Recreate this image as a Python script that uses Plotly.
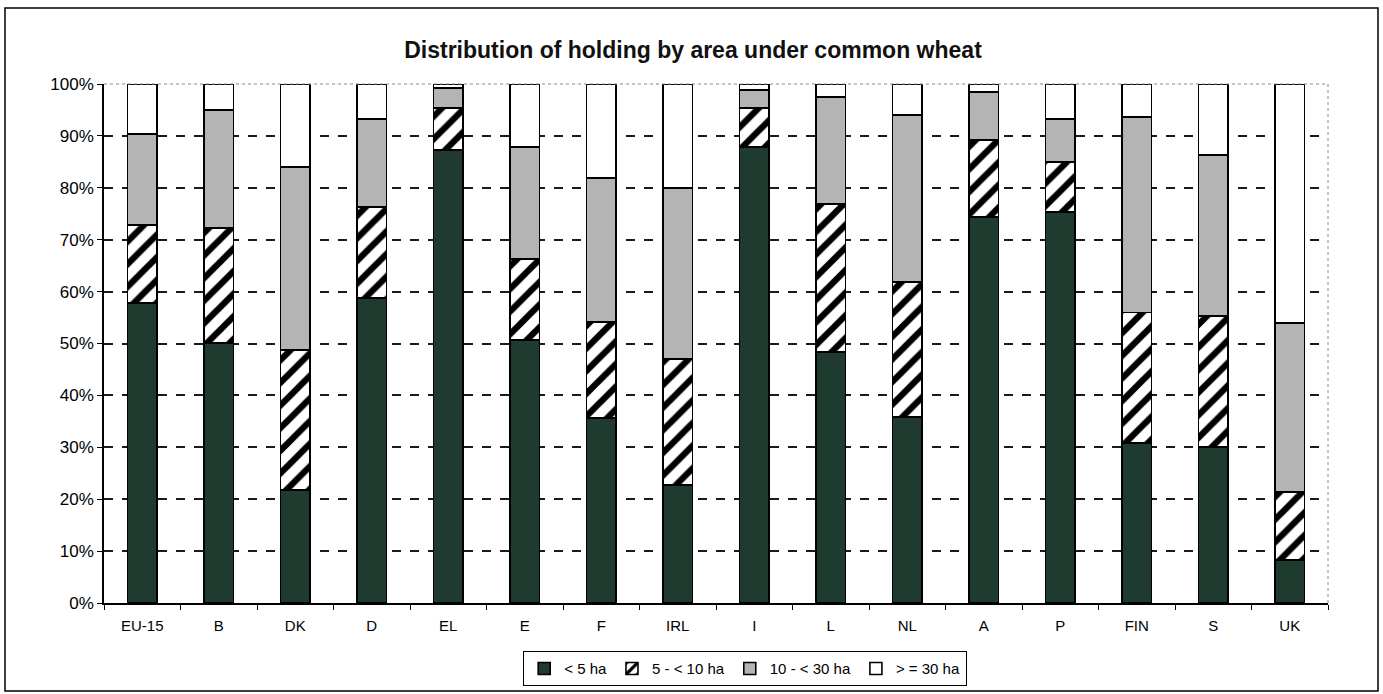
import plotly.graph_objects as go

categories = ["EU-15", "B", "DK", "D", "EL", "E", "F", "IRL", "I", "L", "NL", "A", "P", "FIN", "S", "UK"]
lt5 = [57.8, 50.1, 21.8, 58.8, 87.3, 50.7, 35.6, 22.7, 87.9, 48.4, 35.8, 74.4, 75.3, 30.8, 30.1, 8.3]
b5_10 = [15.0, 22.2, 26.9, 17.5, 8.1, 15.6, 18.5, 24.3, 7.5, 28.5, 26.0, 14.8, 9.7, 25.2, 25.2, 13.1]
b10_30 = [17.6, 22.7, 35.3, 16.9, 3.8, 21.6, 27.8, 33.0, 3.4, 20.6, 32.2, 9.3, 8.3, 37.6, 31.0, 32.6]
ge30 = [9.6, 5.0, 16.0, 6.8, 0.8, 12.1, 18.1, 20.0, 1.2, 2.5, 6.0, 1.5, 6.7, 6.4, 13.7, 46.0]
series_names = ["< 5 ha", "5 - < 10 ha", "10 - < 30 ha", "> = 30 ha"]

font = "Liberation Sans, Arial, sans-serif"
line = dict(color="black", width=1.6)

fig = go.Figure()
fig.add_trace(go.Bar(x=categories, y=[v / 100 for v in lt5], name=series_names[0],
                     marker=dict(color="#1f3a2f", line=line)))
fig.add_trace(go.Bar(x=categories, y=[v / 100 for v in b5_10], name=series_names[1],
                     marker=dict(color="white", line=line,
                                 pattern=dict(shape="/", fgcolor="black", bgcolor="white",
                                              size=16, solidity=0.4, fillmode="replace"))))
fig.add_trace(go.Bar(x=categories, y=[v / 100 for v in b10_30], name=series_names[2],
                     marker=dict(color="#b4b4b4", line=line)))
fig.add_trace(go.Bar(x=categories, y=[v / 100 for v in ge30], name=series_names[3],
                     marker=dict(color="white", line=line)))

L, R, T, B = 104, 55, 84, 91
W, H = 1383, 694
pw, ph = W - L - R, H - T - B

def px(x):
    return (x - L) / pw

def py(y):
    return (H - B - y) / ph

fig.update_layout(
    width=W, height=H,
    margin=dict(l=L, r=R, t=T, b=B, autoexpand=False),
    barmode="stack", bargap=0.61,
    paper_bgcolor="white", plot_bgcolor="white",
    font=dict(family=font, color="black"),
    title=dict(text="<b>Distribution of holding by area under common wheat</b>",
               x=px(693), xanchor="center", xref="paper", y=1 - 50 / H, yanchor="middle",
               font=dict(size=23, family=font, color="#111")),
    xaxis=dict(showline=True, linecolor="black", linewidth=1.5, ticks="outside",
               tickson="boundaries", ticklen=5, tickcolor="black", ticklabelstandoff=8,
               tickfont=dict(size=15, family=font), showgrid=False, automargin=False),
    yaxis=dict(range=[0, 1], dtick=0.1, tickformat=".0%", showline=True,
               linecolor="black", linewidth=1.5, ticks="outside", ticklen=5,
               tickcolor="black", tickfont=dict(size=17, family=font),
               showgrid=True, gridcolor="#1a1a1a", griddash="dash", gridwidth=1.5,
               zeroline=False, automargin=False),
    legend=dict(orientation="h", x=px(745), xanchor="center", y=py(651), yanchor="top",
                bordercolor="black", borderwidth=1.2, bgcolor="white",
                font=dict(size=15, family=font), itemwidth=30,
                traceorder="normal", tracegroupgap=0),
    shapes=[
        dict(type="line", xref="paper", yref="paper", x0=0, x1=1, y0=1, y1=1,
             line=dict(color="#888", width=1, dash="dot")),
        dict(type="line", xref="paper", yref="paper", x0=1, x1=1, y0=0, y1=1,
             line=dict(color="#888", width=1, dash="dot")),
        dict(type="rect", xref="paper", yref="paper", x0=px(5), x1=px(1378),
             y0=py(691), y1=py(8), line=dict(color="black", width=1.5),
             fillcolor="rgba(0,0,0,0)", layer="below"),
    ],
)

fig.write_html("out.html", config={"displayModeBar": False},
               post_script="document.body.style.margin='0';document.body.style.padding='0';")
